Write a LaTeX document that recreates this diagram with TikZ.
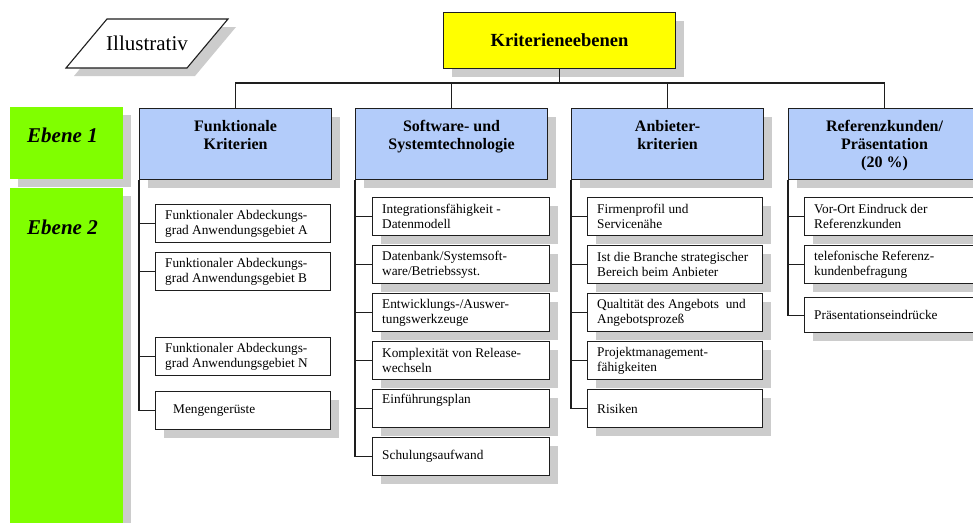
\documentclass[tikz,border=0pt]{standalone}
\usepackage{fontspec}
\setmainfont{Liberation Serif}
\usetikzlibrary{shadows}
\definecolor{lvgreen}{RGB}{128,255,0}
\definecolor{lvblue}{RGB}{179,204,250}
\definecolor{shgray}{RGB}{204,204,204}
\definecolor{lnc}{RGB}{30,30,30}
\definecolor{kryellow}{RGB}{255,255,0}
\newcommand\kid[6]{%
  \node[cbox,#6,minimum width=#4] (#1) at (#2,#3) {};
  \node[ctext] (#1t) at ([xshift=10pt]#1.west) {#5};}
\begin{document}
\begin{tikzpicture}[x=1pt,y=-1pt,
  shd/.style={drop shadow={shadow xshift=8pt,shadow yshift=-8pt,fill=shgray,opacity=1}},
  noshd/.style={},
  conn/.style={draw=lnc,line width=1.1pt},
  l1box/.style={draw=lnc,line width=1.1pt,fill=lvblue,minimum width=192pt,minimum height=71pt,anchor=north west,inner sep=0pt,shd},
  l1text/.style={anchor=north,align=center,inner sep=0pt,font=\fontsize{16}{18}\selectfont\bfseries},
  cbox/.style={draw=lnc,line width=1.1pt,fill=white,minimum height=38pt,anchor=north west,inner sep=0pt},
  ctext/.style={anchor=west,align=left,inner sep=0pt,font=\fontsize{13.3}{15}\selectfont},
  ebox/.style={fill=lvgreen,minimum width=113pt,anchor=north west,inner sep=0pt,shd},
  etext/.style={anchor=west,inner sep=0pt,font=\fontsize{21}{24}\selectfont\bfseries\itshape}
]
\useasboundingbox (0,0) rectangle (973,522);
\clip (0,0) rectangle (973,522);
\fill[white] (0,0) rectangle (973,522);

% Illustrativ
\fill[shgray] (115,27) -- (236,27) -- (195,76) -- (74,76) -- cycle;
\draw[lnc,line width=1.1pt,fill=white] (107,19) -- (228,19) -- (187,68) -- (66,68) -- cycle;
\node[inner sep=0pt,font=\fontsize{21}{24}\selectfont] (illus) at (147,43.5) {Illustrativ};

% top
\node[draw=lnc,fill=kryellow,line width=1.1pt,minimum width=232pt,minimum height=56pt,anchor=north west,inner sep=0pt,shd,font=\fontsize{18.5}{22}\selectfont\bfseries] (kr) at (443,12) {Kriterieneebenen};

% Ebene
\node[ebox,minimum height=72pt] (e1) at (10,107) {};
\node[etext] (e1t) at (27,135) {Ebene 1};
\node[ebox,minimum height=345pt] (e2) at (10,188) {};
\node[etext] (e2t) at (27,227) {Ebene 2};

% level 1
\node[l1box] (f1) at (139,108) {};
\node[l1box] (f2) at (355,108) {};
\node[l1box] (f3) at (571,108) {};
\node[l1box] (f4) at (788,108) {};
\node[l1text] (f1t) at ([yshift=-12pt]f1.north) {Funktionale\\Kriterien};
\node[l1text] (f2t) at ([yshift=-12pt]f2.north) {Software- und\\Systemtechnologie};
\node[l1text] (f3t) at ([yshift=-12pt]f3.north) {Anbieter-\\kriterien};
\node[l1text] (f4t) at ([yshift=-12pt]f4.north) {Referenzkunden/\\Präsentation\\(20 \%)};

% connectors top
\coordinate (bus) at (0,83);
\draw[conn] (kr.south) -- (kr.south |- bus);
\draw[conn] (f1.north) |- (bus -| f4.north) -- (f4.north);
\draw[conn] (f2.north) -- (f2.north |- bus);
\draw[conn] (f3.north) -- (f3.north |- bus);

% column 1
\kid{c1a}{155}{204}{175pt}{Funktionaler Abdeckungs-\\grad Anwendungsgebiet A}{noshd}
\kid{c1b}{155}{252}{175pt}{Funktionaler Abdeckungs-\\grad Anwendungsgebiet B}{noshd}
\kid{c1c}{155}{337}{175pt}{Funktionaler Abdeckungs-\\grad Anwendungsgebiet N}{noshd}
\kid{c1d}{155}{391}{175pt}{\hspace*{8pt}Mengengerüste}{shd}

% column 2
\kid{c2a}{372}{197}{177pt}{Integrationsfähigkeit -\\Datenmodell}{shd}
\kid{c2b}{372}{245}{177pt}{Datenbank/Systemsoft-\\ware/Betriebssyst.}{shd}
\kid{c2c}{372}{293}{177pt}{Entwicklungs-/Auswer-\\tungswerkzeuge}{shd}
\kid{c2d}{372}{341}{177pt}{Komplexität von Release-\\wechseln}{shd}
\kid{c2e}{372}{389}{177pt}{Einführungsplan\\\strut}{shd}
\kid{c2f}{372}{437}{177pt}{Schulungsaufwand}{shd}

% column 3
\kid{c3a}{587}{197}{175pt}{Firmenprofil und\\Servicenähe}{shd}
\kid{c3b}{587}{245}{175pt}{Ist die Branche strategischer\\Bereich beim Anbieter}{shd}
\kid{c3c}{587}{293}{175pt}{Qualtität des Angebots\ \ und\\Angebotsprozeß}{shd}
\kid{c3d}{587}{341}{175pt}{Projektmanagement-\\fähigkeiten}{shd}
\kid{c3e}{587}{389}{175pt}{Risiken}{shd}

% column 4
\kid{c4a}{804}{197}{175pt}{Vor-Ort Eindruck der\\Referenzkunden}{shd}
\kid{c4b}{804}{245}{175pt}{telefonische Referenz-\\kundenbefragung}{shd}
\node[cbox,shd,minimum width=175pt,minimum height=35pt] (c4c) at (804,297) {};
\node[ctext] (c4ct) at ([xshift=10pt]c4c.west) {Präsentationseindrücke};

% trunks and branches
\draw[conn] (f1.south west) |- (c1d.west);
\foreach \c in {c1a,c1b,c1c} \draw[conn] (f1.south west |- \c.west) -- (\c.west);
\draw[conn] (f2.south west) |- (c2f.west);
\foreach \c in {c2a,c2b,c2c,c2d,c2e} \draw[conn] (f2.south west |- \c.west) -- (\c.west);
\draw[conn] (f3.south west) |- (c3e.west);
\foreach \c in {c3a,c3b,c3c,c3d} \draw[conn] (f3.south west |- \c.west) -- (\c.west);
\draw[conn] (f4.south west) |- (c4c.west);
\foreach \c in {c4a,c4b} \draw[conn] (f4.south west |- \c.west) -- (\c.west);
\end{tikzpicture}
\end{document}
